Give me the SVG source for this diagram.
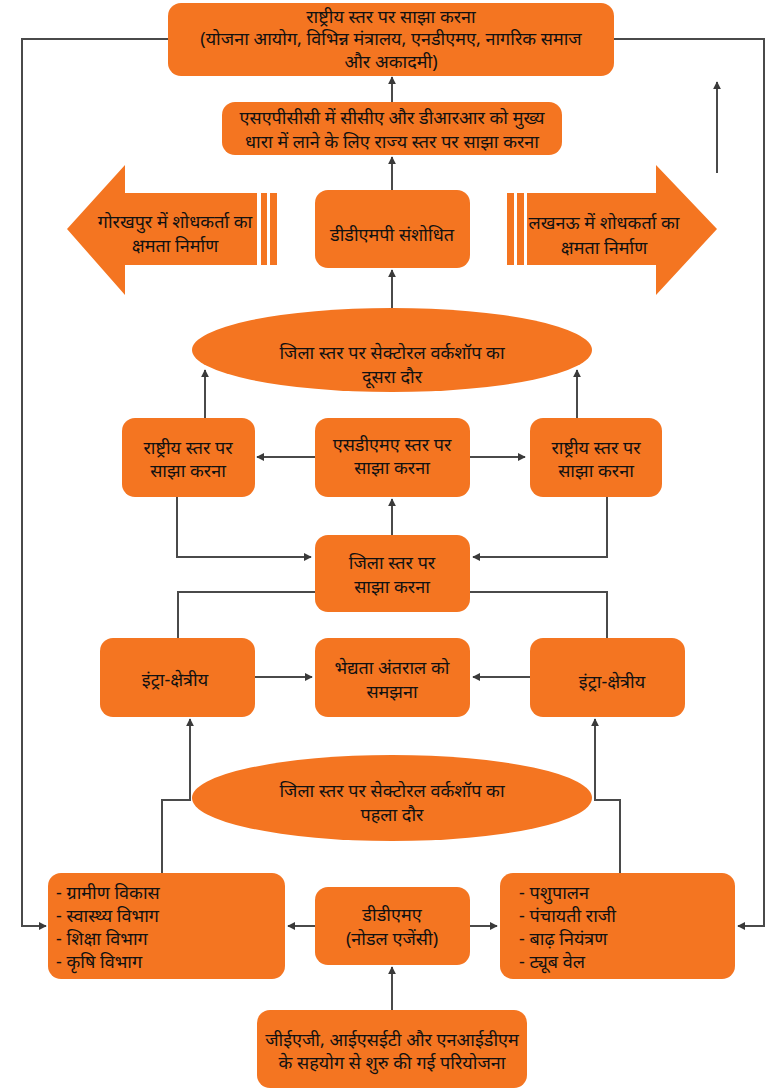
<svg xmlns="http://www.w3.org/2000/svg" width="781" height="1091" viewBox="0 0 781 1091">
<defs>
<marker id="ah" viewBox="0 0 10 10" refX="9" refY="5" markerWidth="8" markerHeight="8" markerUnits="userSpaceOnUse" orient="auto">
<path d="M0,0 L10,5 L0,10 z" fill="#3a3a3a"/>
</marker>
<style>
.n{fill:#F47521;}
.t{font-family:"Noto Sans","Noto Sans Devanagari","Lohit Devanagari",sans-serif;font-size:18px;fill:#111;text-anchor:middle;}
.l{text-anchor:start;}
.c{fill:none;stroke:#4a4a4a;stroke-width:2;}
.a{marker-end:url(#ah);}
</style>
</defs>
<rect width="781" height="1091" fill="#fff"/>
<g id="connectors">
<polyline class="c" points="168,39 22,39 22,926 46,926" marker-end="url(#ah)"/>
<polyline class="c" points="614,39 764,39 764,926 738,926" marker-end="url(#ah)"/>
<line class="c a" x1="717" y1="173" x2="717" y2="82"/>
<line class="c a" x1="392" y1="102" x2="392" y2="77"/>
<line class="c a" x1="392" y1="190" x2="392" y2="157"/>
<line class="c a" x1="392" y1="308" x2="392" y2="270"/>
<line class="c a" x1="205" y1="418" x2="205" y2="370"/>
<line class="c a" x1="577" y1="418" x2="577" y2="370"/>
<line class="c a" x1="315" y1="457" x2="257" y2="457"/>
<line class="c a" x1="470" y1="457" x2="525" y2="457"/>
<line class="c a" x1="392" y1="535" x2="392" y2="499"/>
<polyline class="c a" points="177,497 177,557 311,557"/>
<polyline class="c a" points="607,497 607,557 473,557"/>
<polyline class="c" points="315,592 178,592 178,638"/>
<polyline class="c" points="470,592 607,592 607,638"/>
<line class="c a" x1="255" y1="677" x2="312" y2="677" stroke-width="3"/>
<line class="c a" x1="530" y1="677" x2="473" y2="677" stroke-width="3"/>
<polyline class="c a" points="162,873 162,800 190,800 190,719"/>
<polyline class="c a" points="620,873 620,800 595,800 595,719"/>
<line class="c a" x1="315" y1="926" x2="288" y2="926"/>
<line class="c a" x1="470" y1="926" x2="497" y2="926"/>
<line class="c a" x1="392" y1="1010" x2="392" y2="967"/>
</g>
<g id="n-national-top">
<rect class="n" x="168" y="3" width="446" height="73" rx="13"/>
<text class="t" x="391" y="23">राष्ट्रीय स्तर पर साझा करना</text>
<text class="t" x="391" y="45">(योजना आयोग, विभिन्न मंत्रालय, एनडीएमए, नागरिक समाज</text>
<text class="t" x="391" y="68">और अकादमी)</text>
</g>
<g id="n-state">
<rect class="n" x="222" y="102" width="340" height="53" rx="13"/>
<text class="t" x="392" y="124">एसएपीसीसी में  सीसीए और डीआरआर को मुख्य</text>
<text class="t" x="392" y="148">धारा में लाने के लिए राज्य स्तर पर साझा करना</text>
</g>
<g id="n-gorakhpur">
<path class="n" d="M67,229 L125,165 L125,193 L257,193 L257,265 L125,265 L125,295 Z"/>
<rect class="n" x="261" y="193" width="6" height="72"/>
<rect class="n" x="270" y="193" width="7" height="72"/>
<text class="t" x="175" y="228">गोरखपुर में शोधकर्ता का</text>
<text class="t" x="175" y="252">क्षमता निर्माण</text>
</g>
<g id="n-ddmp">
<rect class="n" x="315" y="190" width="155" height="78" rx="13"/>
<text class="t" x="392" y="241">डीडीएमपी संशोधित</text>
</g>
<g id="n-lucknow">
<rect class="n" x="507" y="193" width="7" height="72"/>
<rect class="n" x="517" y="193" width="7" height="72"/>
<path class="n" d="M527,193 L656,193 L656,165 L717,229 L656,295 L656,265 L527,265 Z"/>
<text class="t" x="604" y="229">लखनऊ में शोधकर्ता का</text>
<text class="t" x="604" y="254">क्षमता निर्माण</text>
</g>
<g id="n-workshop2">
<ellipse class="n" cx="392" cy="350" rx="200" ry="42"/>
<text class="t" x="392" y="359">जिला स्तर पर सेक्टोरल वर्कशॉप का</text>
<text class="t" x="392" y="383">दूसरा दौर</text>
</g>
<g id="n-national-left">
<rect class="n" x="122" y="418" width="133" height="79" rx="13"/>
<text class="t" x="188" y="454">राष्ट्रीय स्तर पर</text>
<text class="t" x="188" y="477">साझा करना</text>
</g>
<g id="n-sdma">
<rect class="n" x="315" y="418" width="155" height="79" rx="13"/>
<text class="t" x="392" y="451">एसडीएमए स्तर पर</text>
<text class="t" x="392" y="474">साझा करना</text>
</g>
<g id="n-national-right">
<rect class="n" x="530" y="418" width="132" height="79" rx="13"/>
<text class="t" x="596" y="454">राष्ट्रीय स्तर पर</text>
<text class="t" x="596" y="477">साझा करना</text>
</g>
<g id="n-district">
<rect class="n" x="315" y="535" width="155" height="77" rx="13"/>
<text class="t" x="392" y="569">जिला स्तर पर</text>
<text class="t" x="392" y="593">साझा करना</text>
</g>
<g id="n-intra-left">
<rect class="n" x="100" y="638" width="155" height="79" rx="13"/>
<text class="t" x="175" y="686">इंट्रा-क्षेत्रीय</text>
</g>
<g id="n-vuln">
<rect class="n" x="315" y="638" width="155" height="79" rx="13"/>
<text class="t" x="392" y="674">भेद्यता अंतराल को</text>
<text class="t" x="392" y="698">समझना</text>
</g>
<g id="n-intra-right">
<rect class="n" x="530" y="638" width="155" height="79" rx="13"/>
<text class="t" x="612" y="688">इंट्रा-क्षेत्रीय</text>
</g>
<g id="n-workshop1">
<ellipse class="n" cx="392" cy="798" rx="200" ry="43"/>
<text class="t" x="392" y="797">जिला स्तर पर सेक्टोरल वर्कशॉप का</text>
<text class="t" x="392" y="821">पहला दौर</text>
</g>
<g id="n-dept-left">
<rect class="n" x="48" y="873" width="237" height="106" rx="13"/>
<text class="t l" x="56" y="899">- ग्रामीण विकास</text>
<text class="t l" x="56" y="922">- स्वास्थ्य विभाग</text>
<text class="t l" x="56" y="945">- शिक्षा विभाग</text>
<text class="t l" x="56" y="968">- कृषि विभाग</text>
</g>
<g id="n-ddma">
<rect class="n" x="315" y="887" width="155" height="78" rx="13"/>
<text class="t" x="392" y="921">डीडीएमए</text>
<text class="t" x="392" y="945">(नोडल एजेंसी)</text>
</g>
<g id="n-dept-right">
<rect class="n" x="500" y="873" width="235" height="106" rx="13"/>
<text class="t l" x="519" y="899">- पशुपालन</text>
<text class="t l" x="519" y="922">- पंचायती राजी</text>
<text class="t l" x="519" y="945">- बाढ़ नियंत्रण</text>
<text class="t l" x="519" y="968">- ट्यूब वेल</text>
</g>
<g id="n-project">
<rect class="n" x="257" y="1010" width="270" height="78" rx="13"/>
<text class="t" x="392" y="1046">जीईएजी, आईएसईटी और एनआईडीएम</text>
<text class="t" x="392" y="1069">के सहयोग से शुरु की गई परियोजना</text>
</g>
</svg>
